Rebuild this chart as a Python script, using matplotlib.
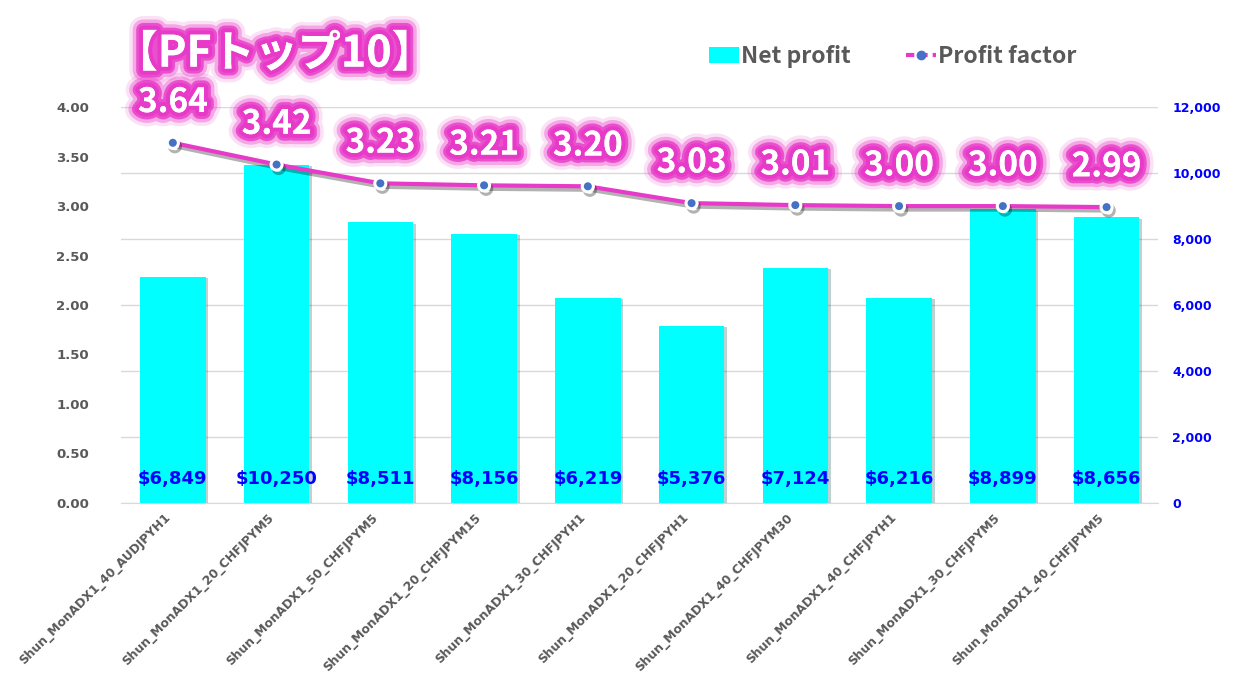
import matplotlib
matplotlib.use("Agg")
import matplotlib.pyplot as plt
import matplotlib.patheffects as pe
from matplotlib.lines import Line2D
from matplotlib.patches import Patch
import numpy as np

plt.rcParams['font.family'] = ['Noto Sans CJK JP', 'DejaVu Sans']

# data
names = ["Shun_MonADX1_40_AUDJPYH1", "Shun_MonADX1_20_CHFJPYM5", "Shun_MonADX1_50_CHFJPYM5",
         "Shun_MonADX1_20_CHFJPYM15", "Shun_MonADX1_30_CHFJPYH1", "Shun_MonADX1_20_CHFJPYH1",
         "Shun_MonADX1_40_CHFJPYM30", "Shun_MonADX1_40_CHFJPYH1", "Shun_MonADX1_30_CHFJPYM5",
         "Shun_MonADX1_40_CHFJPYM5"]
net_profit = [6849, 10250, 8511, 8156, 6219, 5376, 7124, 6216, 8899, 8656]
profit_factor = [3.64, 3.42, 3.23, 3.21, 3.20, 3.03, 3.01, 3.00, 3.00, 2.99]

pink = '#E83AC8'
gray = '#595959'
x = np.arange(len(names))

def glow(color=pink):
    return [pe.withStroke(linewidth=20, foreground=color, alpha=0.15),
            pe.withStroke(linewidth=15, foreground=color, alpha=0.35),
            pe.withStroke(linewidth=10, foreground=color, alpha=0.8),
            pe.withStroke(linewidth=6, foreground=color, alpha=1.0),
            pe.Normal()]

fig = plt.figure(figsize=(12.47, 6.87), dpi=100)
ax = fig.add_axes([0.097, 0.268, 0.832, 0.576])
ax2 = ax.twinx()

# bars (right axis)
bars = ax.bar(x, net_profit, width=0.63, color='#00FFFF', zorder=2)
for b in bars:
    b.set_path_effects([pe.SimplePatchShadow(offset=(2, -1), alpha=0.25), pe.Normal()])
ax.set_ylim(0, 12000)
ax.set_yticks(np.arange(0, 12001, 2000))
ax.set_yticklabels([f"{v:,}" for v in range(0, 12001, 2000)])
ax.yaxis.tick_right()
ax.tick_params(axis='y', colors='#0000FF', length=0, labelsize=9, pad=10)
for t in ax.get_yticklabels():
    t.set_fontweight('bold')
    t.set_family(['DejaVu Sans'])
ax.grid(axis='y', color='#D9D9D9', lw=1, zorder=0)
ax.set_axisbelow(True)
for s in ['top', 'left', 'right']:
    ax.spines[s].set_visible(False)
ax.spines['bottom'].set_color('#D9D9D9')
ax.set_xlim(-0.5, len(names) - 0.5)
ax.set_xticks(x)
ax.set_xticklabels(names, rotation=45, ha='right', color=gray, fontsize=8.8, fontweight='bold',
                   family=['DejaVu Sans'])
ax.tick_params(axis='x', length=0, pad=6)

for xi, v in zip(x, net_profit):
    ax.text(xi, 720, f"${v:,}", ha='center', va='center', color='#0000FF',
            fontsize=13, fontweight='bold', family=['DejaVu Sans'], zorder=3)

# line (left axis)
ax2.plot(x, profit_factor, color=pink, lw=3, marker='o', markersize=8,
         markerfacecolor='#4472C4', markeredgecolor='white', markeredgewidth=2.2, zorder=3,
         path_effects=[pe.SimpleLineShadow(offset=(1.5, -2.5), alpha=0.3, shadow_color='black'), pe.Normal()])
ax2.set_ylim(0, 4)
ax2.set_yticks(np.arange(0, 4.01, 0.5))
ax2.set_yticklabels([f"{v:.2f}" for v in np.arange(0, 4.01, 0.5)])
ax2.yaxis.tick_left()
ax2.tick_params(axis='y', colors=gray, length=0, labelsize=9.5, pad=23)
for t in ax2.get_yticklabels():
    t.set_fontweight('bold')
    t.set_family(['DejaVu Sans'])
for s in ax2.spines.values():
    s.set_visible(False)

for xi, v in zip(x, profit_factor):
    ax2.annotate(f"{v:.2f}", (xi, v), xytext=(0, 29), textcoords='offset points',
                 ha='center', va='center', color='white', fontsize=24, fontweight='bold',
                 path_effects=glow(), zorder=5, annotation_clip=False)

# title
fig.text(0.092, 0.922, "【PFトップ10】", color='white', fontsize=31, fontweight='bold',
         ha='left', va='center', path_effects=glow())

# legend
handles = [Patch(facecolor='#00FFFF', edgecolor='none'),
           Line2D([0], [0], color=pink, lw=3, ls=(0, (2, 1.2)), marker='o', markersize=6,
                  markerfacecolor='#4472C4', markeredgecolor='#4472C4')]
leg = fig.legend(handles, ['Net profit', 'Profit factor'], loc='center', bbox_to_anchor=(0.716, 0.918),
                 ncol=2, frameon=False, handlelength=1.3, handletextpad=0.1, columnspacing=2.4,
                 prop={'size': 16.5, 'weight': 'bold'})
for t in leg.get_texts():
    t.set_color(gray)

fig.savefig('out.png', dpi=100)
